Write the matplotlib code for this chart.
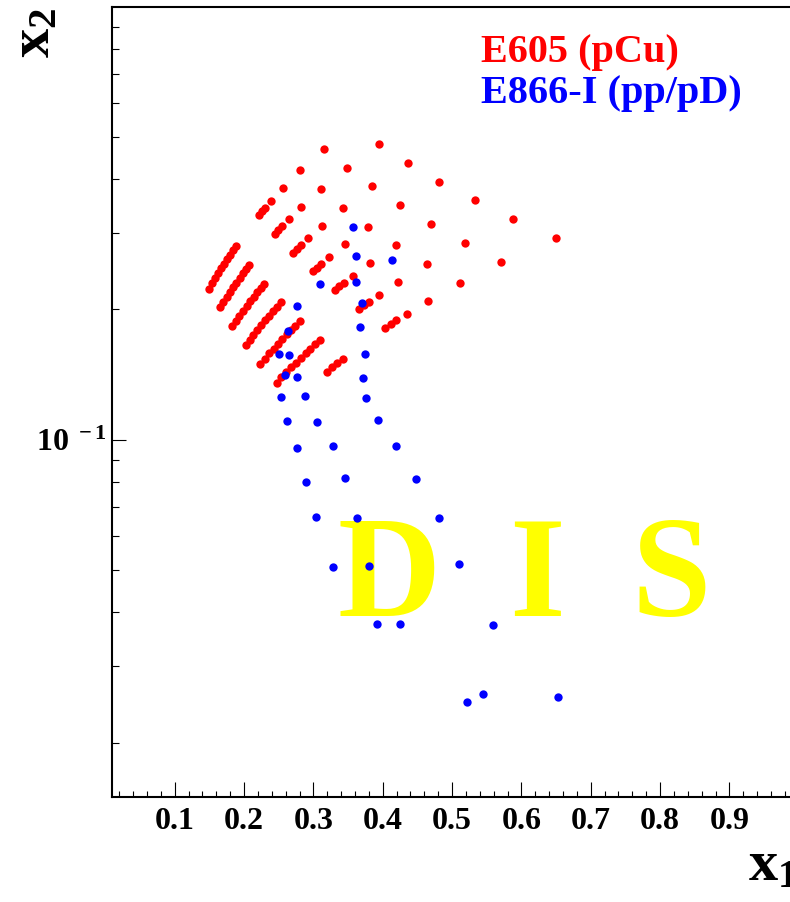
import matplotlib
matplotlib.use("Agg")
import matplotlib.pyplot as plt
from matplotlib.ticker import FixedLocator, FixedFormatter, NullFormatter

plt.rcParams["font.family"] = ["Liberation Serif", "DejaVu Serif"]
plt.rcParams["font.weight"] = "bold"
plt.rcParams["mathtext.fontset"] = "custom"
plt.rcParams["mathtext.rm"] = "Liberation Serif:bold"
plt.rcParams["mathtext.it"] = "Liberation Serif:bold"
plt.rcParams["mathtext.bf"] = "Liberation Serif:bold"

# E605 (pCu) kinematic coverage, one list pair per rapidity bin
e605_x1_ym02 = [0.1498, 0.1540, 0.1583, 0.1625, 0.1667, 0.1709, 0.1751, 0.1794, 0.1836, 0.1878,
                0.2215, 0.2260, 0.2305, 0.2391, 0.2557, 0.2810, 0.3150]
e605_x2_ym02 = [0.2235, 0.2298, 0.2361, 0.2425, 0.2487, 0.2550, 0.2613, 0.2676, 0.2738, 0.2802,
                0.3305, 0.3371, 0.3438, 0.3567, 0.3814, 0.4192, 0.4700]
e605_x1_ym01 = [0.1656, 0.1702, 0.1749, 0.1796, 0.1842, 0.1889, 0.1935, 0.1982, 0.2029, 0.2076,
                0.2448, 0.2497, 0.2547, 0.2642, 0.2826, 0.3105, 0.3482, 0.3945]
e605_x2_ym01 = [0.2023, 0.2079, 0.2136, 0.2194, 0.2250, 0.2308, 0.2364, 0.2422, 0.2478, 0.2535,
                0.2991, 0.3050, 0.3111, 0.3227, 0.3452, 0.3793, 0.4253, 0.4819]
e605_x1_y00 = [0.1830, 0.1881, 0.1933, 0.1985, 0.2036, 0.2088, 0.2139, 0.2191, 0.2242, 0.2294,
               0.2706, 0.2760, 0.2815, 0.2920, 0.3123, 0.3432, 0.3848, 0.4360]
e605_x2_y00 = [0.1830, 0.1881, 0.1933, 0.1985, 0.2036, 0.2088, 0.2139, 0.2191, 0.2242, 0.2294,
               0.2706, 0.2760, 0.2815, 0.2920, 0.3123, 0.3432, 0.3848, 0.4360]
e605_x1_y01 = [0.2023, 0.2079, 0.2136, 0.2194, 0.2250, 0.2308, 0.2364, 0.2422, 0.2478, 0.2535,
               0.2991, 0.3050, 0.3111, 0.3227, 0.3452, 0.3793, 0.4253, 0.4819]
e605_x2_y01 = [0.1656, 0.1702, 0.1749, 0.1796, 0.1842, 0.1889, 0.1935, 0.1982, 0.2029, 0.2076,
               0.2448, 0.2497, 0.2547, 0.2642, 0.2826, 0.3105, 0.3482, 0.3945]
e605_x1_y02 = [0.2235, 0.2298, 0.2361, 0.2425, 0.2487, 0.2550, 0.2613, 0.2676, 0.2738, 0.2802,
               0.3305, 0.3371, 0.3438, 0.3567, 0.3814, 0.4192, 0.4700, 0.5325]
e605_x2_y02 = [0.1498, 0.1540, 0.1583, 0.1625, 0.1667, 0.1709, 0.1751, 0.1794, 0.1836, 0.1878,
               0.2215, 0.2260, 0.2305, 0.2391, 0.2557, 0.2810, 0.3150, 0.3570]
e605_x1_y03 = [0.2470, 0.2539, 0.2609, 0.2680, 0.2748, 0.2819, 0.2887, 0.2958, 0.3027, 0.3097,
               0.3653, 0.3726, 0.3800, 0.3942, 0.4216, 0.4633, 0.5194, 0.5886]
e605_x2_y03 = [0.1356, 0.1393, 0.1432, 0.1471, 0.1508, 0.1547, 0.1585, 0.1623, 0.1661, 0.1699,
               0.2005, 0.2045, 0.2085, 0.2163, 0.2314, 0.2542, 0.2851, 0.3230]
e605_x1_y04 = [0.3191, 0.3269, 0.3345, 0.3422, 0.4037, 0.4117, 0.4199,
               0.4356, 0.4659, 0.5120, 0.5705, 0.6504]
e605_x2_y04 = [0.1434, 0.1469, 0.1503, 0.1538, 0.1814, 0.1850, 0.1887,
               0.1957, 0.2093, 0.2301, 0.2579, 0.2923]

# E866-I (pp/pD) kinematic coverage
e866_x1 = [0.3573, 0.3608, 0.4136, 0.3097, 0.3612, 0.2771, 0.3703, 0.2631, 0.3670,
           0.2511, 0.2655, 0.3742, 0.2587, 0.2760, 0.3717, 0.2534, 0.2886, 0.3766,
           0.2626, 0.3059, 0.3939, 0.2771, 0.3284, 0.4189, 0.2900, 0.3453, 0.4482,
           0.3045, 0.3633, 0.4807, 0.3280, 0.3802, 0.5098, 0.3922, 0.4250, 0.5592,
           0.5449, 0.5209, 0.6527]
e866_x2 = [0.3100, 0.2660, 0.2600, 0.2288, 0.2310, 0.2040, 0.2065, 0.1786, 0.1818,
           0.1575, 0.1567, 0.1578, 0.1412, 0.1394, 0.1390, 0.1254, 0.1265, 0.1247,
           0.1108, 0.1100, 0.1114, 0.0955, 0.0967, 0.0969, 0.0800, 0.0816, 0.0814,
           0.0663, 0.0660, 0.0660, 0.0508, 0.0511, 0.0518, 0.0376, 0.0376, 0.0374,
           0.02593, 0.02476, 0.02546]

x_ticks = [0.1, 0.2, 0.3, 0.4, 0.5, 0.6, 0.7, 0.8, 0.9]
x_tick_labels = ["0.1", "0.2", "0.3", "0.4", "0.5", "0.6", "0.7", "0.8", "0.9"]
x_minor = [0.02, 0.04, 0.06, 0.08, 0.12, 0.14, 0.16, 0.18, 0.22, 0.24, 0.26, 0.28,
           0.32, 0.34, 0.36, 0.38, 0.42, 0.44, 0.46, 0.48, 0.52, 0.54, 0.56, 0.58,
           0.62, 0.64, 0.66, 0.68, 0.72, 0.74, 0.76, 0.78, 0.82, 0.84, 0.86, 0.88,
           0.92, 0.94, 0.96, 0.98]
y_ticks = [0.1]
y_tick_labels = [r"$10^{\ -1}$"]
y_minor = [0.02, 0.03, 0.04, 0.05, 0.06, 0.07, 0.08, 0.09,
           0.2, 0.3, 0.4, 0.5, 0.6, 0.7, 0.8, 0.9]

# large region label, one letter at a time
region_letters = ["D", "I", "S"]
region_letter_xpos = [0.4038, 0.6187, 0.8140]

W, H = 790, 902
fig = plt.figure(figsize=(W / 100, H / 100), dpi=100)
fig.patch.set_facecolor("white")
ax = fig.add_axes([112.3 / W, (H - 796.7) / H, (798.7 - 112.3) / W, (796.7 - 6.7) / H])
ax.set_yscale("log")
ax.set_xlim(0.01, 1.0)
ax.set_ylim(0.015, 1.0)

for s in ax.spines.values():
    s.set_linewidth(1.5)

ax.xaxis.set_major_locator(FixedLocator(x_ticks))
ax.xaxis.set_major_formatter(FixedFormatter(x_tick_labels))
ax.xaxis.set_minor_locator(FixedLocator(x_minor))
ax.yaxis.set_major_locator(FixedLocator(y_ticks))
ax.yaxis.set_major_formatter(FixedFormatter(y_tick_labels))
ax.yaxis.set_minor_locator(FixedLocator(y_minor))
ax.yaxis.set_minor_formatter(NullFormatter())

ax.tick_params(axis="x", which="major", direction="in", length=10.8, width=0.8,
               labelsize=23, pad=7.5)
ax.tick_params(axis="x", which="minor", direction="in", length=4.3, width=0.8)
ax.tick_params(axis="y", which="major", direction="in", length=10, width=0.8,
               labelsize=23, pad=4)
ax.tick_params(axis="y", which="minor", direction="in", length=5, width=0.8)
for lab in ax.get_xticklabels() + ax.get_yticklabels():
    lab.set_fontweight("bold")

# DIS region marker behind the data
for letter, xp in zip(region_letters, region_letter_xpos):
    ax.text(xp, 0.2285, letter, transform=ax.transAxes, fontsize=103,
            color="#ffff00", fontweight="bold", ha="center", va="baseline", zorder=1)

red_sets = [(e605_x1_ym02, e605_x2_ym02), (e605_x1_ym01, e605_x2_ym01),
            (e605_x1_y00, e605_x2_y00), (e605_x1_y01, e605_x2_y01),
            (e605_x1_y02, e605_x2_y02), (e605_x1_y03, e605_x2_y03),
            (e605_x1_y04, e605_x2_y04)]
for x1, x2 in red_sets:
    ax.scatter(x1, x2, s=36, color="#ff0000", linewidths=0, zorder=3)
ax.scatter(e866_x1, e866_x2, s=36, color="#0000ff", linewidths=0, zorder=4)

ax.text(0.5372, 0.9304, "E605 (pCu)", transform=ax.transAxes, fontsize=29,
        color="#ff0000", fontweight="bold", ha="left", va="baseline")
ax.text(0.5372, 0.8781, "E866-I (pp/pD)", transform=ax.transAxes, fontsize=29,
        color="#0000ff", fontweight="bold", ha="left", va="baseline")

fig.text(9 / W, (H - 58) / H, r"$x_2$", rotation=90, fontsize=42,
         ha="left", va="bottom")
fig.text(748 / W, (H - 880) / H, r"$x_1$", fontsize=42, ha="left", va="baseline")

fig.savefig("out.png", dpi=100)
